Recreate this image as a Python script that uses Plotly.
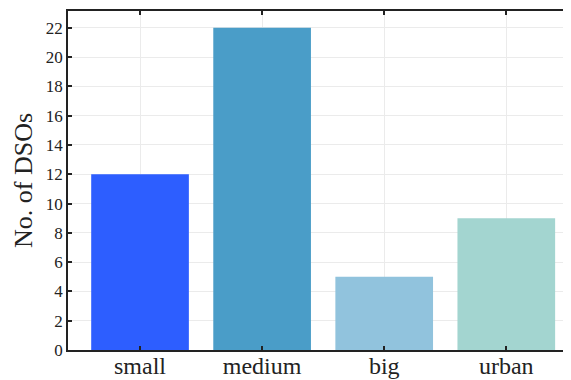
import plotly.graph_objects as go

categories = ["small", "medium", "big", "urban"]
counts = [12, 22, 5, 9]
bar_colors = ["#2d5eff", "#4a9dc8", "#91c3dd", "#a3d5d0"]
y_ticks = list(range(0, 23, 2))

fig = go.Figure(go.Bar(
    x=list(range(len(categories))), y=counts,
    marker=dict(color=bar_colors, line=dict(width=0)),
    width=0.8,
))

font_family = "Liberation Serif"
# the page body adds an ~8px offset, so the figure is sized/positioned to compensate
fig.update_layout(
    width=563, height=372,
    margin=dict(l=60, r=0, t=3, b=30, autoexpand=False),
    paper_bgcolor="white", plot_bgcolor="white",
    font=dict(family=font_family, color="#222222"),
    showlegend=False,
)
fig.update_xaxes(
    range=[-0.59, 3.53],
    tickmode="array", tickvals=list(range(len(categories))), ticktext=categories,
    tickfont=dict(size=24, family=font_family),
    ticklabelstandoff=-7,
    showgrid=True, gridcolor="#ebebeb", gridwidth=1,
    showline=True, linecolor="#222222", linewidth=1.5,
    ticks="inside", ticklen=4, tickwidth=1.5, tickcolor="#222222",
    mirror="ticks", layer="above traces",
    zeroline=False, automargin=False,
)
fig.update_yaxes(
    range=[0, 23.15],
    tickmode="array", tickvals=y_ticks,
    tickfont=dict(size=17, family=font_family),
    showgrid=True, gridcolor="#ebebeb", gridwidth=1,
    showline=True, linecolor="#222222", linewidth=1.5,
    ticks="inside", ticklen=4, tickwidth=1.5, tickcolor="#222222",
    layer="above traces", zeroline=False, automargin=False,
    title=dict(text="No. of DSOs", font=dict(size=26, family=font_family), standoff=6),
)

fig.write_html("out.html")
